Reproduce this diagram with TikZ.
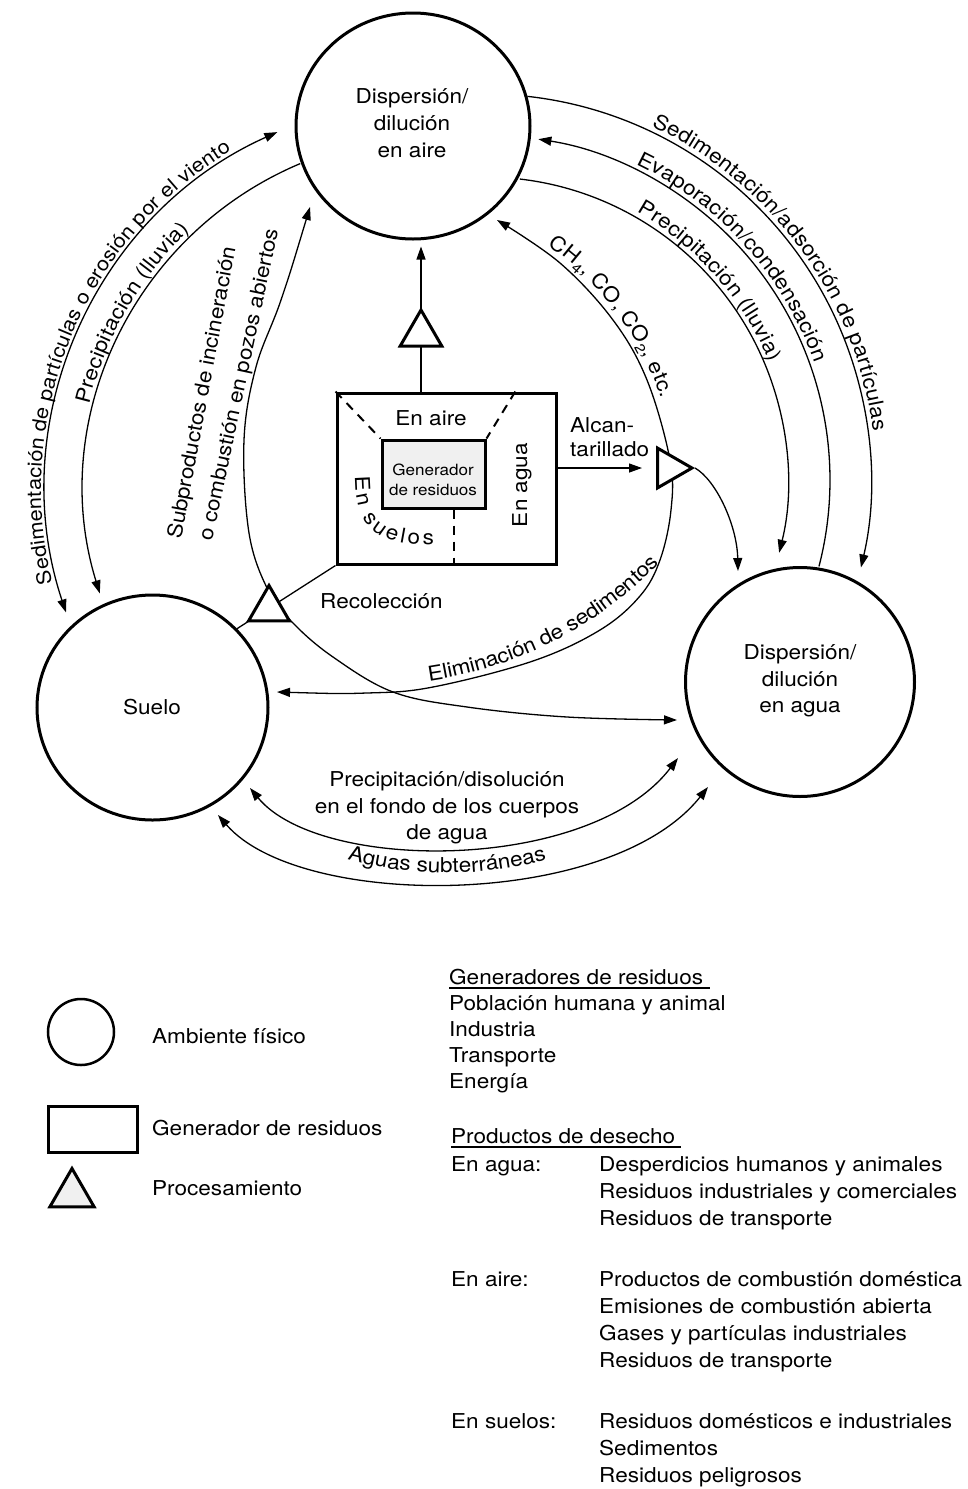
\documentclass[tikz,border=0pt]{standalone}
\usepackage{fontspec}
\setmainfont{TeX Gyre Heros}[FakeStretch=1.1]
\usetikzlibrary{arrows.meta,shapes.geometric,decorations.text,calc}
\pgfdeclarelayer{bg}
\pgfsetlayers{bg,main}
\newcommand\fsz[1]{\fontsize{#1}{#1}\selectfont}
\begin{document}
\begin{tikzpicture}[x=1pt,y=-1pt,>={Triangle[length=13pt,width=9pt]},
  env/.style={ellipse,draw,line width=3pt,inner sep=0pt},
  tri/.style={regular polygon,regular polygon sides=3,draw,line width=3pt,fill=white,inner sep=0pt},
  conn/.style={line width=1.3pt},
  dsh/.style={line width=2pt,dash pattern=on 9pt off 7pt},
  lbl/.style={font=\fsz{20.5},inner sep=0pt},
  small/.style={font=\fsz{15.5},inner sep=0pt},
  uline/.style={line width=1.2pt}]
\useasboundingbox (0,0) rectangle (968,1489);
% arc centres
\coordinate (cL) at (437,489);
\coordinate (cR) at (485,480);
\coordinate (cU) at (380,488);
\coordinate (cE) at (372,284);
\coordinate (cG) at (447,500);
% environments
\node[env,minimum width=234pt,minimum height=226pt] (air) at (413,126) {};
\node[env,minimum width=231pt,minimum height=225pt] (suelo) at (152.5,707.5) {};
\node[env,minimum width=229pt,minimum height=229pt] (agua) at (800,682) {};
% generator box
\node[draw,line width=3pt,fill=white,minimum width=219pt,minimum height=171pt,inner sep=0pt] (gen) at (446.5,478.5) {};
\node[draw,line width=3pt,fill=gray!12,minimum width=103pt,minimum height=68pt,inner sep=0pt] (inner) at (433.5,474) {};
\draw[dsh] (gen.north west) -- (inner.north west);
\draw[dsh] ($(gen.north west)!0.81!(gen.north east)$) -- (inner.north east);
\coordinate (dv) at ($(inner.south west)!0.69!(inner.south east)$);
\draw[dsh] (dv) -- (dv |- gen.south);
% processing triangles
\node[tri,minimum size=48pt] (tri1) at (421,334) {};
\node[tri,minimum size=46pt,shape border rotate=-90] (tri2) at (669,468) {};
\node[tri,minimum size=47pt] (tri3) at (269,609) {};
% texts in circles and box
\node[lbl,anchor=base] (a1) at (412,103) {Dispersión/};
\node[lbl,anchor=base] (a2) at (412,130) {dilución};
\node[lbl,anchor=base] (a3) at (412,157) {en aire};
\node[lbl,anchor=base] (w1) at (800,659) {Dispersión/};
\node[lbl,anchor=base] (w2) at (800,686) {dilución};
\node[lbl,anchor=base] (w3) at (800,712) {en agua};
\node[lbl,anchor=base] (s1) at (152,714) {Suelo};
\node[lbl,anchor=base] (ba) at (431,425) {En aire};
\node[lbl,rotate=90] (bw) at (522,485) {En agua};
\node[small,anchor=base] (g1) at (433,475) {Generador};
\node[small,anchor=base] (g2) at (433,495) {de residuos};
\path[decorate,decoration={text along path,text={|\fsz{20.5}|En suelos},text align={fit to path}}]
  (355,476) .. controls (355,535) and (385,545) .. (434,545);
\node[lbl,anchor=base west] (al1) at (570,432) {Alcan-};
\node[lbl,anchor=base west] (al2) at (570,456) {tarillado};
\node[lbl,anchor=base west] (rec) at (320,608) {Recolección};
\node[lbl,rotate=79.4] (sp1) at (203,393) {Subproductos de incineración};
\node[lbl,rotate=78] (sp2) at (240,385) {o combustión en pozos abiertos};
\node[lbl,anchor=base] (pd1) at (447,786) {Precipitación/disolución};
\node[lbl,anchor=base] (pd2) at (447,813) {en el fondo de los cuerpos};
\node[lbl,anchor=base] (pd3) at (447,839) {de agua};
% curved labels
\path[decorate,decoration={text along path,text align=center,raise=5pt,
  text={|\fsz{19.8}|Sedimentación de partículas o erosión por el viento}}]
  ([shift={(-215:391)}]cL) arc[start angle=-215,end angle=-100,radius=391];
\path[decorate,decoration={text along path,text align=center,raise=5pt,
  text={|\fsz{20.5}|Precipitación (lluvia)}}]
  ([shift={(-185:353)}]cL) arc[start angle=-185,end angle=-115,radius=353];
\path[decorate,decoration={text along path,text align=center,raise=5pt,
  text={|\fsz{20.5}|Sedimentación/adsorción de partículas}}]
  ([shift={(-80:386)}]cR) arc[start angle=-80,end angle=8,radius=386];
\path[decorate,decoration={text along path,text align=center,raise=5pt,
  text={|\fsz{20.5}|Evaporación/condensación}}]
  ([shift={(-80:345)}]cR) arc[start angle=-80,end angle=-4,radius=345];
\path[decorate,decoration={text along path,text align=center,raise=5pt,
  text={|\fsz{20.5}|Precipitación (lluvia)}}]
  ([shift={(-78:303)}]cR) arc[start angle=-78,end angle=-5,radius=303];
\path[decorate,decoration={text along path,text align=center,raise=5pt,
  text={|\fsz{20.5}|CH{\raisebox{-5pt}{\fsz{14}4}}, CO, CO{\raisebox{-5pt}{\fsz{14}2}}, etc.}}]
  ([shift={(-71:290)}]cU) arc[start angle=-71,end angle=-2,radius=290];
\path[decorate,decoration={text along path,text align=center,raise=8pt,
  text={|\fsz{20.5}|Eliminación de sedimentos}}]
  ([shift={(105:409)}]cE) arc[start angle=105,end angle=21,radius=409];
\path[decorate,decoration={text along path,text align=center,raise=0pt,
  text={|\fsz{20.5}|Aguas subterráneas}}]
  ([shift={(125:373)}]cG) arc[start angle=125,end angle=55,radius=373];
% free arrow ends
\coordinate (tW) at (738,571);
\coordinate (tC1) at (310,207);
\coordinate (tC2) at (677,720);
\coordinate (tR4a) at (277,692);
\coordinate (tR4b) at (497,220);
\coordinate (b1s) at (250,788);
\coordinate (b1e) at (678,758);
\coordinate (b2s) at (218,815);
\coordinate (b2e) at (708,787);
% connectors
\begin{pgfonlayer}{bg}
\fill[white] (0,0) rectangle (968,1489);
\draw[conn,->,shorten >=6pt] (tri1 |- gen.north) -- (tri1 |- air.south);
\draw[conn,->] (gen.east |- tri2) -- ([xshift=-14pt]tri2.west);
\draw[conn,->] (tri2.corner 1) .. controls (716,480) and (737,525) .. (tW);
\draw[conn] (gen.south west) -- (suelo.43);
\draw[conn,<->] ([shift={(-198.4:391)}]cL) arc[start angle=-198.4,end angle=-114.1,radius=391];
\draw[conn,->] ([shift={(-112.8:353)}]cL) arc[start angle=-112.8,end angle=-197.2,radius=353];
\draw[conn,->] ([shift={(-83.7:386)}]cR) arc[start angle=-83.7,end angle=13.1,radius=386];
\draw[conn,->] ([shift={(14.5:345)}]cR) arc[start angle=14.5,end angle=-81.1,radius=345];
\draw[conn,->] ([shift={(-83.4:303)}]cR) arc[start angle=-83.4,end angle=13.9,radius=303];
\draw[conn,<->] plot[smooth,tension=0.6] coordinates {(tC1) (281,300) (256,367) (244,440) (249,533) (268,590) (293,623) (333,657) (393,692) (467,707) (567,717) (tC2)};
\draw[conn,<->] plot[smooth,tension=0.6] coordinates {(tR4a) (367,693) (433,687) (533,661) (600,630) (640,596) (660,560) (671,510) (670,460) (647,380) (613,320) (560,263) (tR4b)};
\draw[conn,<->] (b1s) .. controls (320,873) and (590,873) .. (b1e);
\draw[conn,<->] (b2s) .. controls (300,910) and (610,910) .. (b2e);
\end{pgfonlayer}
% legend
\node[circle,draw,line width=2.5pt,inner sep=0pt,minimum size=66pt] (Lc) at (81,1032) {};
\node[draw,line width=3pt,minimum width=89pt,minimum height=46pt,inner sep=0pt] (Lr) at (92.8,1129.7) {};
\node[tri,fill=gray!12,minimum size=51pt] (Lt) at (72,1194) {};
\node[lbl,anchor=base west] (L1) at (152,1043) {Ambiente físico};
\node[lbl,anchor=base west] (L2) at (152,1135) {Generador de residuos};
\node[lbl,anchor=base west] (L3) at (152,1195) {Procesamiento};
\node[lbl,anchor=base west] (h1) at (449,984) {Generadores de residuos};
\draw[uline] ([yshift=-4pt]h1.base west) -- ([xshift=7pt,yshift=-4pt]h1.base east);
\node[lbl,anchor=base west] (r1) at (449,1010) {Población humana y animal};
\node[lbl,anchor=base west] (r2) at (449,1036) {Industria};
\node[lbl,anchor=base west] (r3) at (449,1062) {Transporte};
\node[lbl,anchor=base west] (r4) at (449,1088) {Energía};
\node[lbl,anchor=base west] (h2) at (451,1143) {Productos de desecho};
\draw[uline] ([yshift=-4pt]h2.base west) -- ([xshift=6pt,yshift=-4pt]h2.base east);
\node[lbl,anchor=base west] (k1) at (451,1171) {En agua:};
\node[lbl,anchor=base west] (v1) at (599,1171) {Desperdicios humanos y animales};
\node[lbl,anchor=base west] (v2) at (599,1198) {Residuos industriales y comerciales};
\node[lbl,anchor=base west] (v3) at (599,1225) {Residuos de transporte};
\node[lbl,anchor=base west] (k2) at (451,1286) {En aire:};
\node[lbl,anchor=base west] (v4) at (599,1286) {Productos de combustión doméstica};
\node[lbl,anchor=base west] (v5) at (599,1313) {Emisiones de combustión abierta};
\node[lbl,anchor=base west] (v6) at (599,1340) {Gases y partículas industriales};
\node[lbl,anchor=base west] (v7) at (599,1367) {Residuos de transporte};
\node[lbl,anchor=base west] (k3) at (451,1428) {En suelos:};
\node[lbl,anchor=base west] (v8) at (599,1428) {Residuos domésticos e industriales};
\node[lbl,anchor=base west] (v9) at (599,1455) {Sedimentos};
\node[lbl,anchor=base west] (v10) at (599,1482) {Residuos peligrosos};
\end{tikzpicture}
\end{document}
